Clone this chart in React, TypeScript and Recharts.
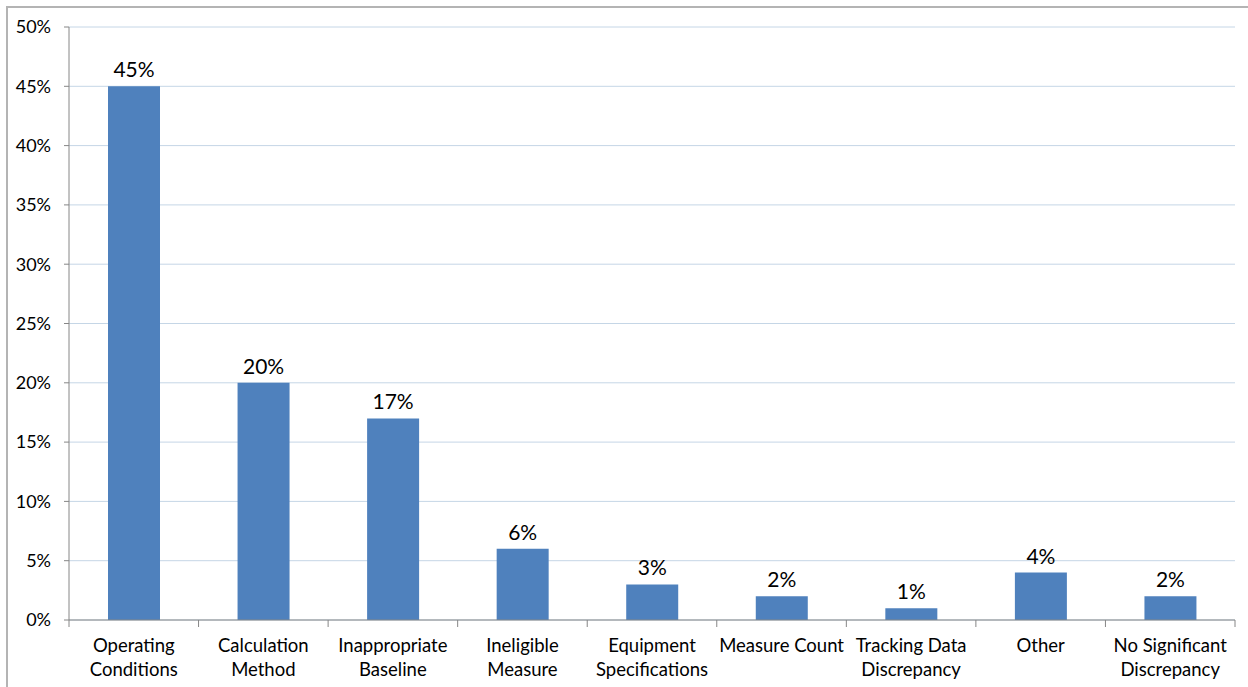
import { BarChart, Bar, XAxis, YAxis, CartesianGrid, LabelList } from 'recharts'

// Discrepancy categories, split into the lines they wrap to under the axis
const categories: string[][] = [
  ['Operating', 'Conditions'],
  ['Calculation', 'Method'],
  ['Inappropriate', 'Baseline'],
  ['Ineligible', 'Measure'],
  ['Equipment', 'Specifications'],
  ['Measure Count'],
  ['Tracking Data', 'Discrepancy'],
  ['Other'],
  ['No Significant', 'Discrepancy'],
]
const shares = [45, 20, 17, 6, 3, 2, 1, 4, 2]
const yTicks = [0, 5, 10, 15, 20, 25, 30, 35, 40, 45, 50]

const data = categories.map((lines, i) => ({ name: lines.join(' '), lines, value: shares[i] }))

const FONT = 'Lato, "Noto Sans", sans-serif'
const AXIS = '#868686'
const W = 1248
const H = 687
const margin = { top: 27, right: 13, left: 9, bottom: 7 }
const Y_WIDTH = 60
const plotW = W - margin.left - Y_WIDTH - margin.right
const band = plotW / categories.length

function CategoryTick(props: any) {
  const { x, y, index } = props
  const lines: string[] = data[index]?.lines ?? []
  const last = index === data.length - 1
  return (
    <g>
      <line x1={x - band / 2} x2={x - band / 2} y1={y - 8} y2={y - 1} stroke={AXIS} />
      {last && <line x1={x + band / 2} x2={x + band / 2} y1={y - 8} y2={y - 1} stroke={AXIS} />}
      {lines.map((t, k) => (
        <text key={k} x={x} y={y + 24 + k * 24} textAnchor="middle" fontSize={18.5} fill="#000" fontFamily={FONT}>
          {t}
        </text>
      ))}
    </g>
  )
}

export default function App() {
  return (
    <div style={{ position: 'absolute', left: 0, top: 0, width: W, height: H, background: '#fff' }}>
      <div style={{ position: 'absolute', left: 6, top: 6, right: 0, bottom: -4, borderLeft: '2px solid #b4b4b4', borderTop: '2px solid #b4b4b4' }} />
      <div style={{ position: 'absolute', left: 0, top: 0 }}>
        <BarChart width={W} height={H} data={data} margin={margin} barSize={52}>
          <CartesianGrid vertical={false} stroke="#c5d6e6" strokeWidth={1} />
          <XAxis
            dataKey="name"
            interval={0}
            height={60}
            tickLine={false}
            axisLine={{ stroke: AXIS }}
            tick={<CategoryTick />}
          />
          <YAxis
            domain={[0, 50]}
            ticks={yTicks}
            width={Y_WIDTH}
            tickFormatter={(v: number) => `${v}%`}
            tickSize={5}
            tickMargin={13}
            axisLine={{ stroke: AXIS }}
            tickLine={{ stroke: AXIS }}
            tick={{ fontSize: 18, fill: '#000', fontFamily: FONT }}
          />
          <Bar dataKey="value" fill="#4f81bd" isAnimationActive={false}>
            <LabelList
              dataKey="value"
              position="top"
              offset={9}
              formatter={(v: any) => `${v}%`}
              style={{ fontSize: 21, fill: '#000', fontFamily: FONT }}
            />
          </Bar>
        </BarChart>
      </div>
    </div>
  )
}
